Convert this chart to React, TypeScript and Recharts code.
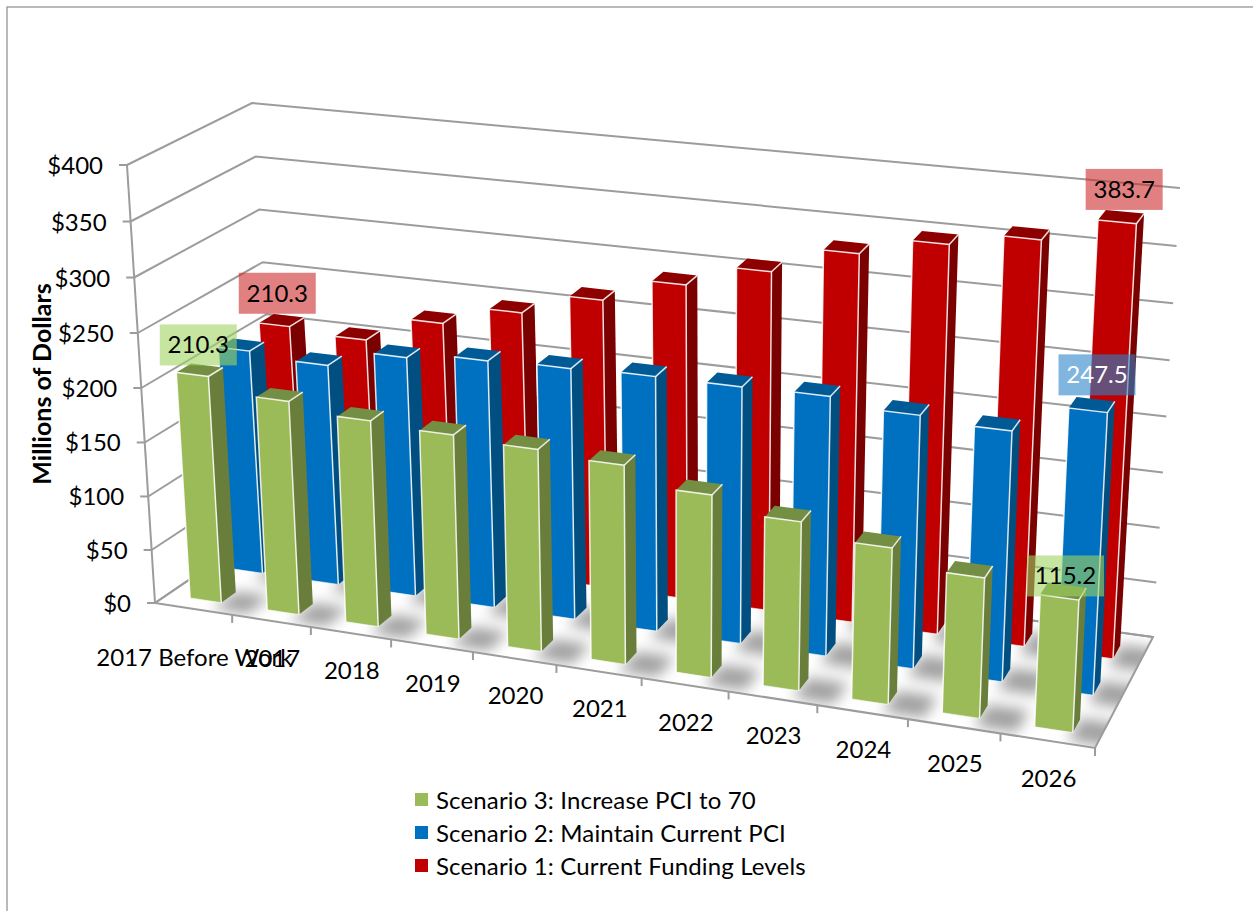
import React from 'react';
import { BarChart, Bar, XAxis, YAxis, Legend, LabelList, Label, Customized } from 'recharts';

const categories = ['2017 Before Work', '2017', '2018', '2019', '2020', '2021', '2022', '2023', '2024', '2025', '2026'];
const scenario1 = [210.3, 206, 230, 248, 268, 290, 310, 334, 350, 362, 383.7];
const scenario2 = [210.3, 206, 222, 228, 230, 232, 232, 233, 226, 222, 247.5];
const scenario3 = [210.3, 197, 189, 186, 183, 179, 163, 150, 138, 123, 115.2];
const yTicks = [0, 50, 100, 150, 200, 250, 300, 350, 400];

const chartData = categories.map((name, i) => ({
  name,
  s1: scenario1[i],
  s2: scenario2[i],
  s3: scenario3[i],
}));

const WIDTH = 1253;
const HEIGHT = 911;
const FONT = 'Lato, "Open Sans", sans-serif';
const LINE = '#9c9c9c';

// flat plot area that recharts scales into, the shapes then push it through the 3D box
const PLOT = { left: 100, top: 100, width: 1000, height: 600 };

// corners of the 3D box on screen
const BOX = {
  floorFrontLeft: [155, 603],
  floorFrontRight: [1095, 748],
  floorBackLeft: [280, 518],
  floorBackRight: [1153, 637],
  topFrontLeft: [127, 165],
  topFrontRight: [1118, 272],
  topBackLeft: [252, 103],
  topBackRight: [1180, 188],
};
const PERSPECTIVE_X = 1.118;
const PERSPECTIVE_Y = 1.037;
const BAR_DEPTH = 0.12;

const mix = (a: number[], b: number[], t: number) => [a[0] + (b[0] - a[0]) * t, a[1] + (b[1] - a[1]) * t];

const project = (u: number, d: number, w: number) => {
  const uu = u / (u + (1 - u) * PERSPECTIVE_X);
  const ww = w / (w + (1 - w) * PERSPECTIVE_Y);
  const floorFront = mix(BOX.floorFrontLeft, BOX.floorFrontRight, uu);
  const floorBack = mix(BOX.floorBackLeft, BOX.floorBackRight, uu);
  const topFront = mix(BOX.topFrontLeft, BOX.topFrontRight, uu);
  const topBack = mix(BOX.topBackLeft, BOX.topBackRight, uu);
  return mix(mix(floorFront, floorBack, d), mix(topFront, topBack, d), ww);
};

const pts = (list: number[][]) => list.map((p) => `${p[0].toFixed(1)},${p[1].toFixed(1)}`).join(' ');

const makePrism = (depth: number, front: string, side: string, top: string) => (props: any) => {
  const { x, width, height } = props;
  const u0 = (x - PLOT.left) / PLOT.width;
  const u1 = (x + width - PLOT.left) / PLOT.width;
  const w = height / PLOT.height;
  const d0 = depth;
  const d1 = depth + BAR_DEPTH;
  const a = project(u0, d0, 0);
  const b = project(u1, d0, 0);
  const c = project(u1, d0, w);
  const e = project(u0, d0, w);
  const f = project(u1, d1, 0);
  const g = project(u1, d1, w);
  const h = project(u0, d1, w);
  return (
    <g>
      <polygon points={pts([b, f, g, c])} fill={side} />
      <polygon points={pts([c, g, h, e])} fill={top} />
      <polygon points={pts([a, b, c, e])} fill={front} />
      <polyline points={pts([a, e, c, b])} fill="none" stroke="#fff" strokeOpacity={0.85} strokeWidth={1.5} />
      <polyline points={pts([a, b])} fill="none" stroke="#fff" strokeOpacity={0.6} strokeWidth={1} />
      <polyline points={pts([c, g])} fill="none" stroke="#fff" strokeOpacity={0.85} strokeWidth={1.5} />
    </g>
  );
};

// first / last are the hand-dragged label offsets, null means that end has no label
const makeLabel =
  (depth: number, fill: string, color: string, first: number[] | null, last: number[]) => (props: any) => {
    const { x, width, height, index, value } = props;
    const shift = index === 0 ? first : index === categories.length - 1 ? last : null;
    if (!shift) return null;
    const u = (x + width / 2 - PLOT.left) / PLOT.width;
    const p = project(u, depth, height / PLOT.height);
    const cx = p[0] + 4 + shift[0];
    const cy = p[1] - 29.5 + shift[1];
    return (
      <g>
        <rect x={cx - 38.5} y={cy - 20.5} width={77} height={41} fill={fill} fillOpacity={0.6} />
        <text x={cx} y={cy + 8.5} textAnchor="middle" fontSize={24} fontFamily={FONT} fill={color}>
          {Number(value).toFixed(1)}
        </text>
      </g>
    );
  };

const Box3D = () => {
  const lines = yTicks.map((t) => {
    const w = t / 400;
    return (
      <polyline
        key={t}
        points={pts([project(0, 0, w), project(0, 1, w), project(1, 1, w)])}
        fill="none"
        stroke={LINE}
        strokeWidth={2}
      />
    );
  });
  const shadows = categories.flatMap((_, i) =>
    [0.1, 0.44, 0.77].map((d) => {
      const u0 = (i + 0.7) / categories.length;
      const u1 = (i + 1.15) / categories.length;
      return (
        <polygon
          key={`${i}-${d}`}
          points={pts([project(u0, d - 0.07, 0), project(u1, d - 0.07, 0), project(u1, d + 0.13, 0), project(u0, d + 0.13, 0)])}
          fill="#a0a0a0"
        />
      );
    }),
  );
  const floor = [project(0, 0, 0), project(1, 0, 0), project(1, 1, 0), project(0, 1, 0)];
  return (
    <g>
      <defs>
        <filter id="soft" x="-20%" y="-20%" width="140%" height="140%">
          <feGaussianBlur stdDeviation="7" />
        </filter>
        <clipPath id="floorClip">
          <polygon points={pts(floor)} />
        </clipPath>
      </defs>
      <rect x={7} y={7} width={1300} height={1000} fill="none" stroke="#8c8c8c" strokeWidth={1.2} />
      <g clipPath="url(#floorClip)">
        <g filter="url(#soft)">{shadows}</g>
      </g>
      <polygon points={pts(floor)} fill="none" stroke={LINE} strokeWidth={2} />
      {lines}
      <polyline points={pts([project(0, 0, 1), project(0, 0, 0)])} fill="none" stroke={LINE} strokeWidth={2} />
    </g>
  );
};

const YTick = (props: any) => {
  const { y, payload } = props;
  const w = (PLOT.top + PLOT.height - y) / PLOT.height;
  const p = project(0, 0, w);
  return (
    <g>
      <line x1={p[0] - 8} y1={p[1]} x2={p[0]} y2={p[1]} stroke={LINE} strokeWidth={2} />
      <text x={p[0] - 24} y={p[1] + 9} textAnchor="end" fontSize={24} fontFamily={FONT} fill="#000">
        ${payload.value}
      </text>
    </g>
  );
};

const XTick = (props: any) => {
  const { x, payload, index } = props;
  const u = (x - PLOT.left) / PLOT.width;
  const p = project(u, 0, 0);
  const edge = project(u + 0.5 / categories.length, 0, 0);
  return (
    <g>
      <line x1={edge[0]} y1={edge[1]} x2={edge[0]} y2={edge[1] + 8} stroke={LINE} strokeWidth={2} />
      <text x={p[0] + 1} y={p[1] + (index === 0 ? 57 : 46)} textAnchor="middle" fontSize={24} fontFamily={FONT} fill="#000">
        {payload.value}
      </text>
    </g>
  );
};

const LegendList = (props: any) => {
  const items = [...(props.payload || [])].reverse();
  return (
    <div style={{ fontFamily: FONT, fontSize: 24, color: '#000', letterSpacing: 0.15 }}>
      {items.map((item: any) => (
        <div key={item.value} style={{ display: 'flex', alignItems: 'center', height: 33 }}>
          <span style={{ width: 13, height: 13, background: item.color, marginRight: 8 }} />
          {item.value}
        </div>
      ))}
    </div>
  );
};

export default function App() {
  return (
    <div style={{ position: 'absolute', left: 0, top: 0, width: WIDTH, height: HEIGHT, overflow: 'hidden', background: '#fff' }}>
      <BarChart
        width={WIDTH}
        height={HEIGHT}
        data={chartData}
        margin={{
          left: PLOT.left - 1,
          top: PLOT.top,
          right: WIDTH - PLOT.left - PLOT.width,
          bottom: HEIGHT - PLOT.top - PLOT.height - 1,
        }}
        barSize={37}
      >
        <XAxis xAxisId="a" dataKey="name" height={1} interval={0} axisLine={false} tickLine={false} tick={XTick} />
        <XAxis xAxisId="b" dataKey="name" hide />
        <XAxis xAxisId="c" dataKey="name" hide />
        <YAxis
          width={1}
          domain={[0, 400]}
          ticks={yTicks}
          interval={0}
          axisLine={false}
          tickLine={false}
          tick={YTick}
        >
          <Label
            content={() => (
              <text
                transform="translate(51,384) rotate(-90)"
                textAnchor="middle"
                fontSize={25}
                fontWeight="bold"
                fontFamily={FONT}
                fill="#000"
              >
                Millions of Dollars
              </text>
            )}
          />
        </YAxis>
        <Customized component={Box3D} />
        <Bar
          xAxisId="a"
          dataKey="s1"
          name="Scenario 1: Current Funding Levels"
          fill="#C00000"
          isAnimationActive={false}
          shape={makePrism(0.77, '#C00000', '#7B0000', '#8E0000')}
        >
          <LabelList dataKey="s1" content={makeLabel(0.77, '#CB2B2B', '#000', [-1, -2], [3, -3])} />
        </Bar>
        <Bar
          xAxisId="b"
          dataKey="s2"
          name="Scenario 2: Maintain Current PCI"
          fill="#0070C0"
          isAnimationActive={false}
          shape={makePrism(0.44, '#0070C0', '#004F80', '#005A96')}
        >
          <LabelList dataKey="s2" content={makeLabel(0.44, '#2A84CA', '#fff', null, [5, -6])} />
        </Bar>
        <Bar
          xAxisId="c"
          dataKey="s3"
          name="Scenario 3: Increase PCI to 70"
          fill="#9BBB59"
          isAnimationActive={false}
          shape={makePrism(0.1, '#9BBB59', '#687E3A', '#748E43')}
        >
          <LabelList dataKey="s3" content={makeLabel(0.1, '#9ED361', '#000', [2, 0], [2, 8])} />
        </Bar>
        <Legend
          content={LegendList}
          layout="vertical"
          verticalAlign="middle"
          align="center"
          wrapperStyle={{ left: 415, top: 783, width: 500 }}
        />
      </BarChart>
    </div>
  );
}
